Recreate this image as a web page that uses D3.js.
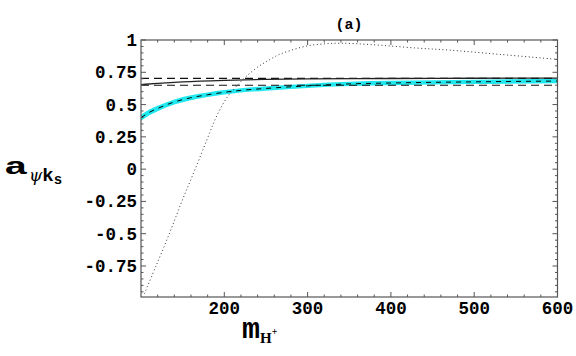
<!DOCTYPE html>
<html>
<head>
<meta charset="utf-8">
<script src="https://cdn.jsdelivr.net/npm/d3@7"></script>
<style>
  body { margin: 0; background: #fff; }
  text { font-family: "Liberation Mono", "DejaVu Sans Mono", monospace; font-weight: bold; }
</style>
</head>
<body>
<div id="chart"></div>
<script>
// values (m_H+ in GeV)

var xTicks = [200, 300, 400, 500, 600];
var yTicks = [-0.75, -0.5, -0.25, 0, 0.25, 0.5, 0.75, 1];
var yTickLabels = ["-0.75", "-0.5", "-0.25", "0", "0.25", "0.5", "0.75", "1"];

// horizontal dashed band
var bandLines = [0.703, 0.650];

// solid curve
var solidX = [100, 120, 150, 200, 250, 300, 400, 500, 600];
var solidY = [0.655, 0.664, 0.676, 0.688, 0.695, 0.699, 0.702, 0.704, 0.705];

// cyan band (centre line is dashed)
var bandX    = [100, 110, 120, 140, 160, 180, 200, 220, 250, 300, 350, 400, 500, 600];
var bandMid  = [0.398, 0.44, 0.47, 0.52, 0.553, 0.576, 0.595, 0.61, 0.625, 0.645, 0.66, 0.667, 0.676, 0.682];
var bandLow  = [0.375, 0.418, 0.449, 0.5, 0.534, 0.558, 0.578, 0.593, 0.608, 0.628, 0.643, 0.65, 0.659, 0.665];
var bandHigh = [0.421, 0.462, 0.491, 0.54, 0.572, 0.594, 0.612, 0.627, 0.642, 0.662, 0.677, 0.684, 0.693, 0.699];

// dotted curve
var dotX = [104, 118, 134, 149, 165, 183, 190, 198, 205, 213, 225, 240, 255, 265, 280, 300, 320, 340, 375, 430, 470, 530, 600];
var dotY = [-0.965, -0.75, -0.5, -0.25, 0, 0.29, 0.40, 0.50, 0.57, 0.63, 0.71, 0.79, 0.85, 0.885, 0.92, 0.955, 0.97, 0.975, 0.965, 0.938, 0.922, 0.889, 0.85];

var W = 576, H = 356;
var margin = {top: 40, right: 18.5, bottom: 59, left: 141};
var width = W - margin.left - margin.right;
var height = H - margin.top - margin.bottom;

var svg = d3.select("#chart")
    .append("svg")
    .attr("width", W)
    .attr("height", H);

var g = svg.append("g")
    .attr("transform", "translate(" + margin.left + "," + margin.top + ")");

var x = d3.scaleLinear().domain([100, 600]).range([0, width]);
var y = d3.scaleLinear().domain([-0.99, 1]).range([height, 0]);

g.append("clipPath").attr("id", "clip")
    .append("rect").attr("width", width).attr("height", height);

var plot = g.append("g").attr("clip-path", "url(#clip)");

// cyan band
var area = d3.area()
    .x(function (d) { return x(d[0]); })
    .y0(function (d) { return y(d[1]); })
    .y1(function (d) { return y(d[2]); })
    .curve(d3.curveMonotoneX);

plot.append("path")
    .datum(bandX.map(function (v, i) { return [v, bandLow[i], bandHigh[i]]; }))
    .attr("d", area)
    .attr("fill", "#1fe8ee");

var line = d3.line()
    .x(function (d) { return x(d[0]); })
    .y(function (d) { return y(d[1]); })
    .curve(d3.curveMonotoneX);

function zip(a, b) { return a.map(function (v, i) { return [v, b[i]]; }); }

plot.append("path")
    .datum(zip(bandX, bandMid))
    .attr("d", line)
    .attr("fill", "none")
    .attr("stroke", "#000")
    .attr("stroke-width", 1)
    .attr("stroke-dasharray", "5,5");

// horizontal dashed lines
plot.selectAll(".hband")
    .data(bandLines)
    .enter().append("line")
    .attr("x1", 0).attr("x2", width)
    .attr("y1", function (d) { return y(d); })
    .attr("y2", function (d) { return y(d); })
    .attr("stroke", "#111")
    .attr("stroke-width", 1.1)
    .attr("stroke-dasharray", "8,5");

plot.append("path")
    .datum(zip(solidX, solidY))
    .attr("d", line)
    .attr("fill", "none")
    .attr("stroke", "#222")
    .attr("stroke-width", 1.3);

plot.append("path")
    .datum(zip(dotX, dotY))
    .attr("d", line.curve(d3.curveCatmullRom))
    .attr("fill", "none")
    .attr("stroke", "#333")
    .attr("stroke-width", 1)
    .attr("stroke-dasharray", "1,2.6");

// frame + ticks (all four sides, ticks pointing inward)
var frameColor = "#555";

g.append("rect")
    .attr("width", width).attr("height", height)
    .attr("fill", "none")
    .attr("stroke", frameColor)
    .attr("stroke-width", 1.2);

var xMinor = d3.range(120, 600, 20).filter(function (v) { return v % 100 !== 0; });
var yMinor = d3.range(-0.95, 1, 0.05).filter(function (v) { return Math.abs(v * 4 - Math.round(v * 4)) > 0.01; });

function xTickMarks(vals, len) {
    vals.forEach(function (v) {
        g.append("line").attr("x1", x(v)).attr("x2", x(v)).attr("y1", height).attr("y2", height - len)
            .attr("stroke", frameColor);
        g.append("line").attr("x1", x(v)).attr("x2", x(v)).attr("y1", 0).attr("y2", len)
            .attr("stroke", frameColor);
    });
}
function yTickMarks(vals, len) {
    vals.forEach(function (v) {
        g.append("line").attr("y1", y(v)).attr("y2", y(v)).attr("x1", 0).attr("x2", len)
            .attr("stroke", frameColor);
        g.append("line").attr("y1", y(v)).attr("y2", y(v)).attr("x1", width).attr("x2", width - len)
            .attr("stroke", frameColor);
    });
}
xTickMarks(xTicks, 5);
xTickMarks(xMinor, 2.5);
yTickMarks(yTicks, 5);
yTickMarks(yMinor, 2.5);

// tick labels
g.selectAll(".xl")
    .data(xTicks)
    .enter().append("text")
    .attr("x", function (d) { return x(d); })
    .attr("y", height + 17)
    .attr("text-anchor", "middle")
    .style("font-size", "17.5px")
    .text(function (d) { return d; });

g.selectAll(".yl")
    .data(yTicks)
    .enter().append("text")
    .attr("x", -4)
    .attr("y", function (d) { return y(d) + 6; })
    .attr("text-anchor", "end")
    .style("font-size", "17.5px")
    .text(function (d, i) { return yTickLabels[i]; });

// title
svg.append("text")
    .attr("x", 349).attr("y", 29)
    .attr("text-anchor", "middle")
    .style("font-size", "15px")
    .text("(a)");

// y label  a_{psi k_s}
var yl = svg.append("text").attr("x", 4).attr("y", 174);
yl.append("tspan").style("font-size", "24px").attr("textLength", 24).attr("lengthAdjust", "spacingAndGlyphs").text("a");
yl.append("tspan").attr("dy", 7).attr("dx", 1).style("font-size", "17px").style("font-family", "DejaVu Serif").style("font-style", "italic").style("font-weight", "normal").text("\u03c8");
yl.append("tspan").style("font-size", "19px").text("k");
yl.append("tspan").attr("dy", 3).style("font-size", "14px").text("s");

// x label  m_{H+}
var xl = svg.append("text").attr("x", 242).attr("y", 338);
xl.append("tspan").style("font-size", "30px").text("m");
xl.append("tspan").attr("dy", 5).style("font-size", "15px").style("font-family", "Liberation Serif").text("H");
xl.append("tspan").attr("dy", -8).style("font-size", "10px").style("font-family", "Liberation Serif").text("+");
</script>
</body>
</html>
